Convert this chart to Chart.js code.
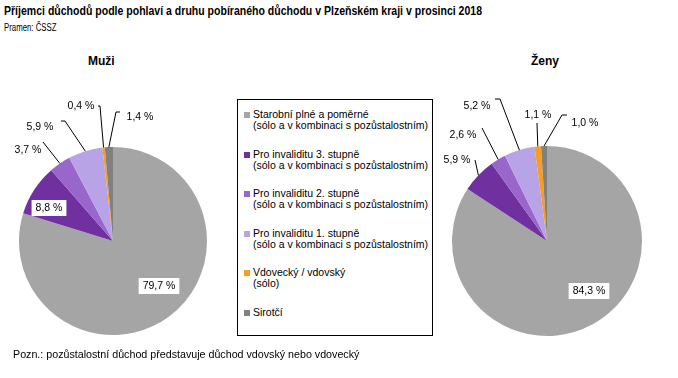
<!DOCTYPE html>
<html>
<head>
<meta charset="utf-8">
<script src="https://cdn.jsdelivr.net/npm/chart.js@4"></script>
<style>
  body { margin: 0; width: 678px; height: 378px; background: #fff; position: relative; overflow: hidden; font-family: "Liberation Sans", Arial, sans-serif; color: #000; }
  .title { position: absolute; left: 4px; top: 3px; font-size: 13px; font-weight: bold; white-space: nowrap; transform: scaleX(0.81); transform-origin: left top; }
  .source { position: absolute; left: 4px; top: 22px; font-size: 10px; white-space: nowrap; transform: scaleX(0.78); transform-origin: left top; }
  .sub { position: absolute; top: 54px; font-size: 12px; font-weight: bold; }
  .note { position: absolute; left: 13px; top: 348px; font-size: 10.7px; white-space: nowrap; }
  canvas { position: absolute; }
  #legend { position: absolute; left: 237px; top: 99px; width: 196px; height: 237px; border: 1px solid #000; box-sizing: border-box; }
  .item { position: absolute; left: 15px; font-size: 10.5px; line-height: 11px; white-space: nowrap; }
  .mark { position: absolute; left: -9px; top: 3px; width: 6px; height: 6px; }
</style>
</head>
<body>
<div class="title">Příjemci důchodů podle pohlaví a druhu pobíraného důchodu v Plzeňském kraji v prosinci 2018</div>
<div class="source">Pramen: ČSSZ</div>
<div class="sub" style="left:88px">Muži</div>
<div class="sub" style="left:531px">Ženy</div>
<canvas id="muzi" width="230" height="270" style="left:0;top:80px"></canvas>
<div id="legend"></div>
<canvas id="zeny" width="238" height="270" style="left:440px;top:80px"></canvas>
<div class="note">Pozn.: pozůstalostní důchod představuje důchod vdovský nebo vdovecký</div>
<script>
const categories = [
  ['Starobní plné a poměrné', '(sólo a v kombinaci s pozůstalostním)'],
  ['Pro invaliditu 3. stupně', '(sólo a v kombinaci s pozůstalostním)'],
  ['Pro invaliditu 2. stupně', '(sólo a v kombinaci s pozůstalostním)'],
  ['Pro invaliditu 1. stupně', '(sólo a v kombinaci s pozůstalostním)'],
  ['Vdovecký / vdovský', '(sólo)'],
  ['Sirotčí']
]
const muziValues = [79.7, 8.8, 3.7, 5.9, 0.4, 1.4]
const zenyValues = [84.3, 5.9, 2.6, 5.2, 1.1, 1.0]
const colors = ['#a5a5a5', '#7030a0', '#9966cc', '#b8a3e6', '#f79d22', '#808080']

// label placement, relative to the pie centre: [dx, dy] of text, elbow of leader line, tick toward text
const muziLabels = [
  {dx: 46, dy: 45, box: true},
  {dx: -64, dy: -33, box: true},
  {dx: -85, dy: -91, ex: -70, ey: -99, tick: 0},
  {dx: -73, dy: -114, ex: -48, ey: -120, tick: -4},
  {dx: -32, dy: -135, ex: -13, ey: -135, tick: -2},
  {dx: 27, dy: -124, ex: 3, ey: -129, tick: 4}
]
const zenyLabels = [
  {dx: 42, dy: 50, box: true},
  {dx: -90, dy: -81, ex: -72, ey: -81, tick: 0},
  {dx: -84, dy: -106, ex: -65, ey: -113, tick: 0},
  {dx: -70, dy: -135, ex: -47, ey: -142, tick: -5},
  {dx: -9, dy: -126, ex: -10, ey: -118, tick: 0},
  {dx: 38, dy: -118, ex: 15, ey: -126, tick: 5}
]

// build legend box
var legend = document.getElementById('legend')
categories.forEach((lines, i) => {
  let d = document.createElement('div')
  d.className = 'item'
  d.style.top = (9 + i * 39.6) + 'px'
  d.innerHTML = `<span class="mark" style="background:${colors[i]}"></span>` + lines.join('<br>')
  legend.appendChild(d)
})

const fmt = (v) => v.toFixed(1).replace('.', ',') + ' %'

const pieLabels = {
  id: 'pieLabels',
  afterDatasetsDraw(chart, args, opts) {
    const ctx = chart.ctx
    const meta = chart.getDatasetMeta(0)
    const values = chart.data.datasets[0].data
    ctx.save()
    ctx.font = '10.5px "Liberation Sans", Arial, sans-serif'
    ctx.textAlign = 'center'
    ctx.textBaseline = 'middle'
    meta.data.forEach((arc, i) => {
      const p = arc.getProps(['x', 'y', 'startAngle', 'endAngle', 'outerRadius'], true)
      const l = opts.layout[i]
      const tx = p.x + l.dx, ty = p.y + l.dy
      const text = fmt(values[i])
      if (l.box) {
        const w = ctx.measureText(text).width + 8
        ctx.fillStyle = '#fff'
        ctx.fillRect(tx - w / 2, ty - 8, w, 16)
      } else {
        const mid = (p.startAngle + p.endAngle) / 2
        const sx = p.x + Math.cos(mid) * p.outerRadius
        const sy = p.y + Math.sin(mid) * p.outerRadius
        ctx.strokeStyle = '#000'
        ctx.lineWidth = 1
        ctx.beginPath()
        ctx.moveTo(sx, sy)
        ctx.lineTo(p.x + l.ex, p.y + l.ey)
        if (l.tick) ctx.lineTo(p.x + l.ex + l.tick, p.y + l.ey)
        ctx.stroke()
      }
      ctx.fillStyle = '#000'
      ctx.fillText(text, tx, ty)
    })
    ctx.restore()
  }
}

var build_pie = (id, values, layout, padding) => {
  new Chart(document.getElementById(id), {
    type: 'pie',
    data: {
      labels: categories.map(c => c.join(' ')),
      datasets: [{ data: values, backgroundColor: colors, borderWidth: 0 }]
    },
    options: {
      responsive: false,
      animation: false,
      layout: { padding: padding },
      plugins: {
        legend: { display: false },
        tooltip: { enabled: false },
        pieLabels: { layout: layout }
      }
    },
    plugins: [pieLabels]
  })
}

build_pie('muzi', muziValues, muziLabels, {left: 19, right: 23, top: 67, bottom: 15})
build_pie('zeny', zenyValues, zenyLabels, {left: 12, right: 36, top: 66, bottom: 14})
</script>
</body>
</html>
